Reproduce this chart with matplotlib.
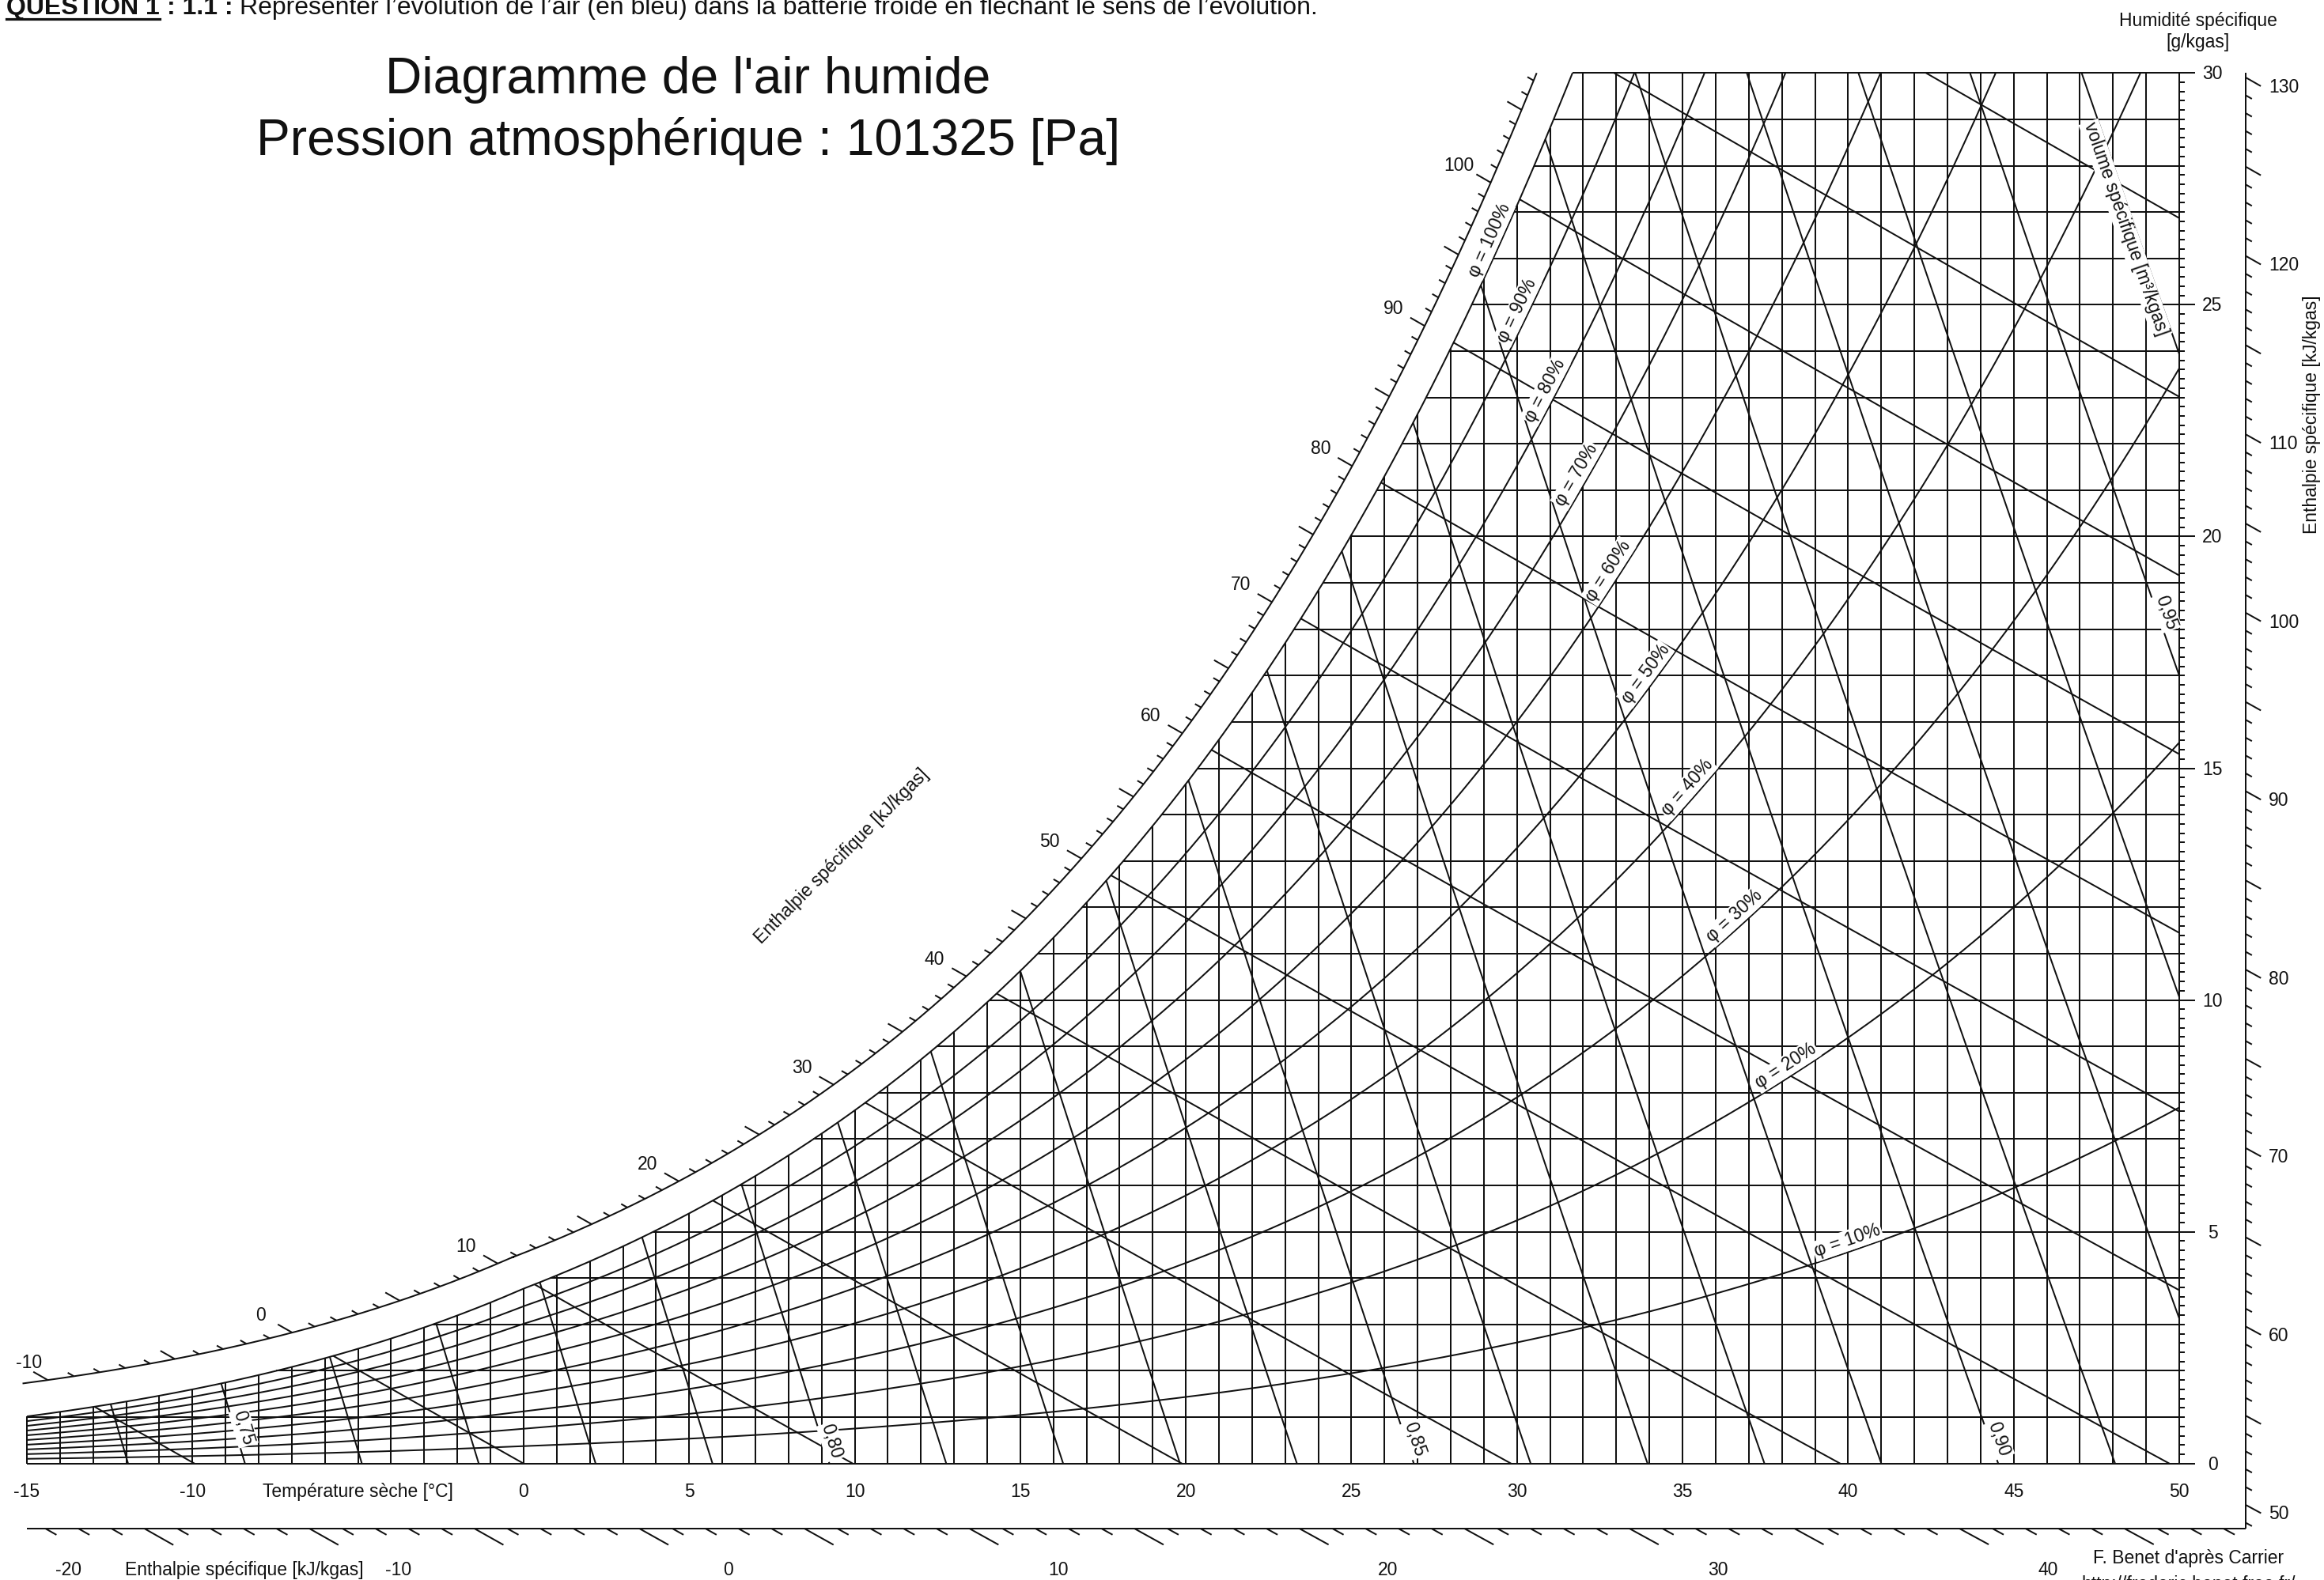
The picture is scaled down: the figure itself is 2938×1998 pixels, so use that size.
import numpy as np
import matplotlib
matplotlib.use("Agg")
import matplotlib.pyplot as plt
from matplotlib.lines import Line2D

plt.rcParams['font.family'] = ['Liberation Sans', 'DejaVu Sans']

# ------------------------------------------------------------------ data
P_ATM = 101325.0                     # Pa
T_MIN, T_MAX = -15.0, 50.0           # dry-bulb axis (°C)
W_MAX = 30.0                         # humidity axis top (g/kgas)
K_V = 1.575                          # moisture coefficient used for the volume lines
temp_grid = list(range(-15, 51))     # vertical grid (°C)
hum_grid = list(range(0, 31))        # horizontal grid (g/kgas)
hum_minor = [k / 5 for k in range(0, 151)]
phi_levels = [0.1, 0.2, 0.3, 0.4, 0.5, 0.6, 0.7, 0.8, 0.9, 1.0]
phi_label_text = ["φ = 10%", "φ = 20%", "φ = 30%", "φ = 40%", "φ = 50%",
                  "φ = 60%", "φ = 70%", "φ = 80%", "φ = 90%", "φ = 100%"]
phi_label_T = [39.98, 38.12, 36.57, 35.14, 33.88, 32.76, 31.80, 30.85, 30.00, 29.17]
h_lines = [-10, 0, 10, 20, 30, 40, 50, 60, 70, 80, 90, 100, 110, 120]
v_lines = [0.74, 0.75, 0.76, 0.77, 0.78, 0.79, 0.80, 0.81, 0.82, 0.83, 0.84,
           0.85, 0.86, 0.87, 0.88, 0.89, 0.90, 0.91, 0.92, 0.93, 0.94, 0.95]
v_label_text = ["0,75", "0,80", "0,85", "0,90", "0,95"]
v_label_line = [0.75, 0.80, 0.85, 0.90, 0.94]
v_label_w = [0.72, 0.42, 0.46, 0.46, 18.3]
temp_labels = [-15, -10, 0, 5, 10, 15, 20, 25, 30, 35, 40, 45, 50]
hum_labels = [0, 5, 10, 15, 20, 25, 30]
h_curve_labels = [-10, 0, 10, 20, 30, 40, 50, 60, 70, 80, 90, 100]
h_bottom_labels = [-20, -10, 0, 10, 20, 30, 40]
h_right_labels = [50, 60, 70, 80, 90, 100, 110, 120, 130]

# ------------------------------------------------------------------ physics
def psat(T):
    T = np.asarray(T, dtype=float)
    water = 610.94 * np.exp(17.625 * T / (T + 243.04))
    ice = 611.15 * np.exp(22.452 * T / (T + 272.55))
    return np.where(T >= 0, water, ice)

def w_phi(T, phi):
    pv = phi * psat(T)
    return 622.0 * pv / (P_ATM - pv)

def T_sat_w(w):
    ps = w * P_ATM / (622.0 + w)
    if ps >= 610.94:
        L = np.log(ps / 610.94)
        return 243.04 * L / (17.625 - L)
    L = np.log(ps / 611.15)
    return 272.55 * L / (22.452 - L)

def h_Tw(T, w):
    return 1.006 * T + w / 1000.0 * (2501.0 + 1.86 * T)

def w_h(T, h):
    T = np.asarray(T, dtype=float)
    return 1000.0 * (h - 1.006 * T) / (2501.0 + 1.86 * T)

def T_hw(h, w):
    return (h - w / 1000.0 * 2501.0) / (1.006 + w / 1000.0 * 1.86)

def w_v(T, v):
    T = np.asarray(T, dtype=float)
    return 1000.0 * (v * P_ATM / (287.055 * (T + 273.15)) - 1.0) / K_V

def T_vw(v, w):
    return v * P_ATM / (287.055 * (1 + K_V * w / 1000.0)) - 273.15

def bisect(f, a, b, n=80):
    fa = f(a)
    for _ in range(n):
        m = 0.5 * (a + b)
        fm = f(m)
        if (fm > 0) == (fa > 0):
            a, fa = m, fm
        else:
            b = m
    return 0.5 * (a + b)

def T_sat_h(h):
    return bisect(lambda T: h_Tw(T, float(w_phi(T, 1.0))) - h, -40.0, 60.0)

# ------------------------------------------------------------------ layout
W_PX, H_PX = 2938, 1998
X_T0, X_T1 = 34.0, 2755.0          # pixel columns of T=-15 and T=50
Y_W0, Y_W1 = 1850.7, 92.3          # pixel rows of w=0 and w=30
SX = (X_T1 - X_T0) / (T_MAX - T_MIN)
SY = (Y_W0 - Y_W1) / W_MAX
SAT_OFFSET = 42.0
Y_BOTTOM_SCALE = 1933.0
X_RIGHT_SCALE = 2839.0
LW = 1.45
FS = 16.5
INK = '#111111'

fig = plt.figure(figsize=(W_PX / 100, H_PX / 100), dpi=100)
fig.patch.set_facecolor('white')
ax = fig.add_axes([0, 0, 1, 1])
ax.set_xlim(T_MIN - X_T0 / SX, T_MIN + (W_PX - X_T0) / SX)
ax.set_ylim(-(H_PX - Y_W0) / SY, Y_W0 / SY)
ax.set_axis_off()

def d2i(T, w):
    xy = np.column_stack([np.atleast_1d(np.asarray(T, float)),
                          np.atleast_1d(np.asarray(w, float))])
    d = ax.transData.transform(xy)
    return np.column_stack([d[:, 0], H_PX - d[:, 1]])

def i2d(p):
    p = np.atleast_2d(np.asarray(p, float))
    return ax.transData.inverted().transform(np.column_stack([p[:, 0], H_PX - p[:, 1]]))

def line(T, w, lw=LW, z=2):
    ax.plot(T, w, color=INK, lw=lw, solid_capstyle='butt', zorder=z)

def seg_img(p0, p1, lw=LW):
    d = i2d(np.vstack([p0, p1]))
    line(d[:, 0], d[:, 1], lw=lw)

def unit(v):
    return v / np.hypot(v[0], v[1])

# ------------------------------------------------------------------ grid
for T in temp_grid:
    line([T, T], [0, min(float(w_phi(T, 1.0)), W_MAX)], z=1)

for w in hum_grid:
    T0 = T_MIN if w == 0 else max(T_MIN, T_sat_w(w))
    T1 = T_MAX + (20.0 / SX if w % 5 == 0 else 0.0)
    line([T0, T1], [w, w], z=1)

for w in hum_minor:
    if abs(w / 5 - round(w / 5)) < 1e-9:
        continue
    line([T_MAX, T_MAX + 7.0 / SX], [w, w], z=1)

# relative humidity curves
for phi in phi_levels:
    if float(w_phi(T_MAX, phi)) <= W_MAX:
        T_end = T_MAX
    else:
        T_end = bisect(lambda T: float(w_phi(T, phi)) - W_MAX, -20.0, 80.0)
    Ts = np.linspace(T_MIN, T_end, 700)
    line(Ts, w_phi(Ts, phi))

# enthalpy lines
for h in h_lines:
    T0 = T_sat_h(h)
    if float(w_phi(T0, 1.0)) > W_MAX:
        T0 = T_hw(h, W_MAX)
    T0 = max(T0, T_MIN)
    T1 = min(h / 1.006, T_MAX)
    Ts = np.linspace(T0, T1, 200)
    line(Ts, w_h(Ts, h))

# specific volume lines
for v in v_lines:
    T0 = bisect(lambda T: float(w_v(T, v)) - float(w_phi(T, 1.0)), -40.0, 60.0)
    if float(w_phi(T0, 1.0)) > W_MAX:
        T0 = T_vw(v, W_MAX)
    T1 = min(T_vw(v, 0.0), T_MAX)
    Ts = np.linspace(T0, T1, 200)
    line(Ts, w_v(Ts, v))

# ------------------------------------------------------------------ enthalpy scale along saturation
Td = np.linspace(T_MIN, 34.5, 5000)
Pimg = d2i(Td, w_phi(Td, 1.0))
tg = np.gradient(Pimg, axis=0)
tg = tg / np.hypot(tg[:, 0], tg[:, 1])[:, None]
up = np.column_stack([tg[:, 1], -tg[:, 0]])
Q = Pimg + SAT_OFFSET * up
Qd = i2d(Q)
keep = Qd[:, 1] <= W_MAX
last = np.where(keep)[0][-1]
Qk = Q[:last + 1]
if last + 1 < len(Q):
    a, b = Qd[last], Qd[last + 1]
    f = (W_MAX - a[1]) / (b[1] - a[1])
    Qk = np.vstack([Qk, Q[last] + f * (Q[last + 1] - Q[last])])
Qkd = i2d(Qk)
line(Qkd[:, 0], Qkd[:, 1])

for h in range(-12, 116):
    Ts0 = T_sat_h(h)
    P0 = d2i(Ts0, w_phi(Ts0, 1.0))[0]
    P1 = d2i(Ts0 - 1.0, w_h(Ts0 - 1.0, h))[0]
    u = unit(P1 - P0)
    rel = Qk - P0
    s = u[0] * rel[:, 1] - u[1] * rel[:, 0]
    proj = rel @ u
    idx = np.where((s[:-1] * s[1:] <= 0) & (proj[:-1] > 0) & (proj[:-1] < 200))[0]
    if len(idx) == 0:
        continue
    i = idx[0]
    f = s[i] / (s[i] - s[i + 1]) if s[i] != s[i + 1] else 0.0
    Pi = Qk[i] + f * (Qk[i + 1] - Qk[i])
    L = 21.0 if h % 5 == 0 else 9.0
    seg_img(Pi, Pi + L * u)
    if h in h_curve_labels:
        c = Pi + (L + 25.0) * u
        c[0] = max(c[0], 37.0)
        cd = i2d([c[0], c[1] + 8.0])[0]
        ax.text(cd[0], cd[1], str(h), ha='center', va='baseline', fontsize=FS,
                color=INK, zorder=6)

# ------------------------------------------------------------------ bottom / right enthalpy scale
w_b = i2d([0.0, Y_BOTTOM_SCALE])[0][1]
T_r = i2d([X_RIGHT_SCALE, 0.0])[0][0]
line([T_MIN, T_r], [w_b, w_b])
line([T_r, T_r], [w_b, W_MAX])

for h in range(-25, 60):
    Tb = T_hw(h, w_b)
    if T_MIN <= Tb <= T_r:
        base = d2i(Tb, w_b)[0]
        d = unit(d2i(Tb + 1.0, w_h(Tb + 1.0, h))[0] - base)
        L = 42.0 if h % 5 == 0 else 16.0
        seg_img(base, base + L * d)
for h in h_bottom_labels:
    Tb = T_hw(h, w_b)
    base = d2i(Tb, w_b)[0]
    cd = i2d([base[0] + 112.0, 1992.0])[0]
    ax.text(cd[0], cd[1], str(h), ha='center', va='baseline', fontsize=FS, color=INK)

for h in range(40, 140):
    wr = float(w_h(T_r, h))
    if w_b <= wr <= W_MAX + 0.2:
        base = d2i(T_r, wr)[0]
        d = unit(d2i(T_r + 1.0, w_h(T_r + 1.0, h))[0] - base)
        L = 22.0 if h % 5 == 0 else 9.0
        seg_img(base, base + L * d)
        if h in h_right_labels:
            o = base + L * d
            cd = i2d([o[0] + 10.0, o[1] + 8.0])[0]
            ax.text(cd[0], cd[1], str(h), ha='left', va='baseline', fontsize=FS, color=INK)

# ------------------------------------------------------------------ axis tick labels
x_lab_y = i2d([0.0, 1893.0])[0][1]
for T in temp_labels:
    ax.text(T, x_lab_y, str(T), ha='center', va='baseline', fontsize=FS, color=INK)
ax.text(-5, x_lab_y, "Température sèche [°C]", ha='center', va='baseline',
        fontsize=FS, color=INK)

x_hum = i2d([X_T1 + 42.0, 0.0])[0][0]
for w in hum_labels:
    yy = i2d([0.0, d2i(T_MAX, w)[0][1] + 8.0])[0][1]
    ax.text(x_hum, yy, str(w), ha='center', va='baseline', fontsize=FS, color=INK)

lbl = i2d([309.0, 1992.0])[0]
ax.text(lbl[0], lbl[1], "Enthalpie spécifique [kJ/kgas]", ha='center', va='baseline',
        fontsize=FS, color=INK)

# ------------------------------------------------------------------ curve labels
box = dict(facecolor='white', edgecolor='none', pad=1.2)
for phi, txt, Tl in zip(phi_levels, phi_label_text, phi_label_T):
    target_x = d2i(Tl, 0.0)[0][0]
    Tc = Tl
    for _ in range(5):
        p = d2i([Tc, Tc + 0.01], w_phi(np.array([Tc, Tc + 0.01]), phi))
        t = unit(p[1] - p[0])
        upv = np.array([t[1], -t[0]])
        c = p[0] + 14.0 * upv
        Tc += (target_x - c[0]) / SX
    ang = np.degrees(np.arctan2(-t[1], t[0]))
    cd = i2d(c)[0]
    ax.text(cd[0], cd[1], txt, rotation=ang, rotation_mode='anchor', ha='center',
            va='center', fontsize=FS, color=INK, bbox=box, zorder=5)

def volume_label(v, w, txt, off):
    Tc = T_vw(v, w)
    p = d2i([Tc, Tc + 0.01], w_v(np.array([Tc, Tc + 0.01]), v))
    t = unit(p[1] - p[0])
    upv = np.array([t[1], -t[0]])
    c = p[0] + off * upv
    ang = np.degrees(np.arctan2(-t[1], t[0]))
    cd = i2d(c)[0]
    ax.text(cd[0], cd[1], txt, rotation=ang, rotation_mode='anchor', ha='center',
            va='center', fontsize=FS, color=INK, bbox=box, zorder=5)

for v, w, txt in zip(v_label_line, v_label_w, v_label_text):
    volume_label(v, w, txt, 11.0)
volume_label(0.95, 26.7, "volume spécifique [m³/kgas]", -12.0)

# ------------------------------------------------------------------ free texts
def ftext(x, y, s, **kw):
    return fig.text(x / W_PX, 1 - y / H_PX, s, color=INK, **kw)

ftext(870, 118, "Diagramme de l'air humide", ha='center', va='baseline', fontsize=46.2)
ftext(870, 196, "Pression atmosphérique : 101325 [Pa]", ha='center', va='baseline',
      fontsize=46.2)

en = ftext(1064, 1083, "Enthalpie spécifique [kJ/kgas]", ha='center', va='center',
           fontsize=FS, rotation=45.2, rotation_mode='anchor')

ftext(2779, 33, "Humidité spécifique", ha='center', va='baseline', fontsize=FS)
ftext(2779, 60, "[g/kgas]", ha='center', va='baseline', fontsize=FS)
ftext(2923, 524, "Enthalpie spécifique [kJ/kgas]", ha='center', va='center',
      fontsize=FS, rotation=90)
ftext(2767, 1977, "F. Benet d'après Carrier", ha='center', va='baseline', fontsize=FS)
ftext(2767, 2010, "http://frederic.benet.free.fr/", ha='center', va='baseline', fontsize=FS)

# question line (bold + underlined head, regular rest)
renderer = fig.canvas.get_renderer()
Q_FS = 23.0
space = 0.278 * Q_FS * 100 / 72
xq, yq = 8.0, 18.0
pieces = [("QUESTION 1", 'bold', True), (": 1.1 :", 'bold', False),
          ("Représenter l’évolution de l’air (en bleu) dans la batterie froide en fléchant le sens de l’évolution.",
           'normal', False)]
for s, wgt, ul in pieces:
    t = ftext(xq, yq, s, ha='left', va='baseline', fontsize=Q_FS, fontweight=wgt)
    bb = t.get_window_extent(renderer)
    if ul:
        fig.add_artist(Line2D([bb.x0 / W_PX, bb.x1 / W_PX],
                              [1 - (yq + 6) / H_PX] * 2, transform=fig.transFigure,
                              color=INK, lw=2.3))
    xq = bb.x1 + space

fig.savefig("out.png", dpi=100, facecolor='white')
